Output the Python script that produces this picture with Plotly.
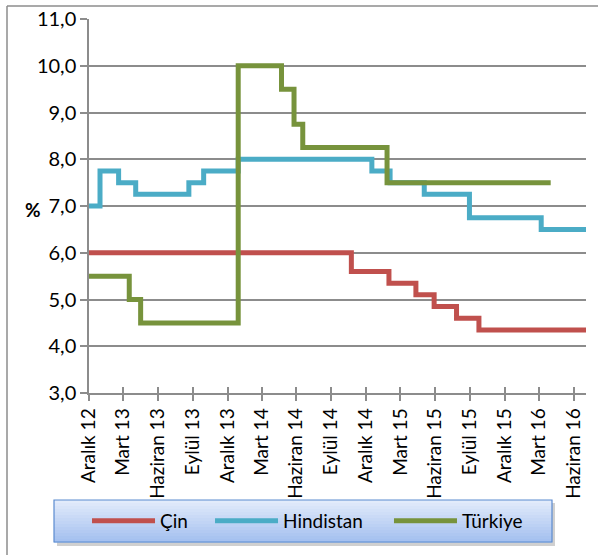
import plotly.graph_objects as go

# ---- data ----
cin_dates = ['2012-12-31', '2014-11-22', '2015-03-01', '2015-05-11', '2015-06-28',
             '2015-08-26', '2015-10-24', '2016-08-01']
cin_vals = [6.0, 5.6, 5.35, 5.1, 4.85, 4.6, 4.35, 4.35]

hin_dates = ['2012-12-31', '2013-01-29', '2013-03-19', '2013-05-03', '2013-09-20',
             '2013-10-29', '2014-01-28', '2015-01-15', '2015-03-04', '2015-06-02',
             '2015-09-29', '2016-04-05', '2016-08-01']
hin_vals = [7.0, 7.75, 7.5, 7.25, 7.5, 7.75, 8.0, 7.75, 7.5, 7.25, 6.75, 6.5, 6.5]

tur_dates = ['2012-12-31', '2013-04-16', '2013-05-16', '2014-01-28', '2014-05-22',
             '2014-06-24', '2014-07-17', '2015-02-24', '2016-04-30']
tur_vals = [5.5, 5.0, 4.5, 10.0, 9.5, 8.75, 8.25, 7.5, 7.5]

tick_dates = ['2012-12-31', '2013-03-31', '2013-06-30', '2013-09-30', '2013-12-31',
              '2014-03-31', '2014-06-30', '2014-09-30', '2014-12-31', '2015-03-31',
              '2015-06-30', '2015-09-30', '2015-12-31', '2016-03-31', '2016-06-30']
tick_labels = ['Aralık 12', 'Mart 13', 'Haziran 13', 'Eylül 13', 'Aralık 13',
               'Mart 14', 'Haziran 14', 'Eylül 14', 'Aralık 14', 'Mart 15',
               'Haziran 15', 'Eylül 15', 'Aralık 15', 'Mart 16', 'Haziran 16']
y_ticks = [3, 4, 5, 6, 7, 8, 9, 10, 11]
y_labels = ['3,0', '4,0', '5,0', '6,0', '7,0', '8,0', '9,0', '10,0', '11,0']

FONT = 'Lato'
GRID = '#8c8c8c'

fig = go.Figure()
fig.add_trace(go.Scatter(x=cin_dates, y=cin_vals, name='Çin', mode='lines', legend='legend',
                         line=dict(color='#c0504d', width=5, shape='hv')))
fig.add_trace(go.Scatter(x=hin_dates, y=hin_vals, name='Hindistan', mode='lines', legend='legend2',
                         line=dict(color='#4bacc6', width=5, shape='hv')))
fig.add_trace(go.Scatter(x=tur_dates, y=tur_vals, name='Türkiye', mode='lines', legend='legend3',
                         line=dict(color='#77933c', width=5, shape='hv')))
# helper trace for the inner half of the crossing x ticks
fig.add_trace(go.Scatter(x=[tick_dates[0]], y=[3], xaxis='x2', mode='markers',
                         marker=dict(opacity=0), showlegend=False, hoverinfo='skip'))

xrange = ['2012-12-31', '2016-08-01']
leg_common = dict(orientation='h', xanchor='left', y=-0.342, yanchor='middle',
                  bgcolor='rgba(0,0,0,0)', itemwidth=63,
                  font=dict(family=FONT, size=19, color='black'))
fig.update_layout(
    template='none',
    width=598, height=555,
    margin=dict(l=89, r=12, t=19, b=162, autoexpand=False),
    paper_bgcolor='white', plot_bgcolor='white',
    font=dict(family=FONT, size=19, color='black'),
    xaxis=dict(type='date', range=xrange, tickvals=tick_dates, ticktext=tick_labels,
               tickangle=-90, showgrid=False, showline=True, linecolor=GRID, linewidth=1.5,
               ticks='outside', ticklen=6, tickcolor=GRID, tickwidth=1.5, automargin=False,
               tickfont=dict(family=FONT, size=19), zeroline=False),
    xaxis2=dict(type='date', range=xrange, overlaying='x', anchor='y', side='bottom',
                tickvals=tick_dates, ticks='inside', ticklen=6, tickcolor=GRID, tickwidth=1.5,
                showticklabels=False, showgrid=False, showline=False, zeroline=False,
                automargin=False),
    yaxis=dict(range=[3, 11], tickvals=y_ticks, ticktext=y_labels,
               showgrid=True, gridcolor=GRID, gridwidth=1.5,
               showline=True, linecolor=GRID, linewidth=1.5, automargin=False,
               ticks='outside', ticklen=7, tickcolor=GRID, tickwidth=1.5,
               tickfont=dict(family=FONT, size=20), zeroline=False),
    showlegend=True,
    legend=dict(x=-0.004, **leg_common),
    legend2=dict(x=0.2435, **leg_common),
    legend3=dict(x=0.6036, **leg_common),
)

# outer chart frame (left & top edges visible)
px_x = lambda p: (p - 89) / 497.0
px_y = lambda p: (393 - p) / 374.0
fig.add_shape(type='line', xref='paper', yref='paper', x0=px_x(7), x1=px_x(7),
              y0=px_y(6), y1=px_y(560), line=dict(color='#8c8c8c', width=1.5), layer='below')
fig.add_shape(type='line', xref='paper', yref='paper', x0=px_x(7), x1=px_x(605),
              y0=px_y(6), y1=px_y(6), line=dict(color='#8c8c8c', width=1.5), layer='below')

# legend box: shadow + gradient + border
lx0, lx1, ly0, ly1 = 54, 552, 500, 542
fig.add_shape(type='rect', xref='paper', yref='paper',
              x0=px_x(lx0 + 3), x1=px_x(lx1 + 3), y0=px_y(ly0 + 3), y1=px_y(ly1 + 4),
              fillcolor='rgba(120,120,120,0.35)', line=dict(width=0), layer='below')
n = 14
top = (226, 235, 251)
bot = (165, 193, 240)
for i in range(n):
    t = i / (n - 1)
    c = tuple(int(top[k] + (bot[k] - top[k]) * t) for k in range(3))
    ya = ly0 + (ly1 - ly0) * i / n
    yb = ly0 + (ly1 - ly0) * (i + 1) / n
    fig.add_shape(type='rect', xref='paper', yref='paper',
                  x0=px_x(lx0), x1=px_x(lx1), y0=px_y(ya), y1=px_y(yb + 0.6),
                  fillcolor='rgb(%d,%d,%d)' % c, line=dict(width=0), layer='below')
fig.add_shape(type='rect', xref='paper', yref='paper',
              x0=px_x(lx0), x1=px_x(lx1), y0=px_y(ly0), y1=px_y(ly1),
              fillcolor='rgba(0,0,0,0)', line=dict(color='#5b8bd0', width=1.2), layer='below')

fig.add_annotation(text='<b>%</b>', xref='paper', yref='paper', x=px_x(23), y=px_y(209),
                   showarrow=False, font=dict(family=FONT, size=19, color='black'))

fig.write_html('out.html', config={'displayModeBar': False},
               post_script="document.body.style.margin='0px';")
